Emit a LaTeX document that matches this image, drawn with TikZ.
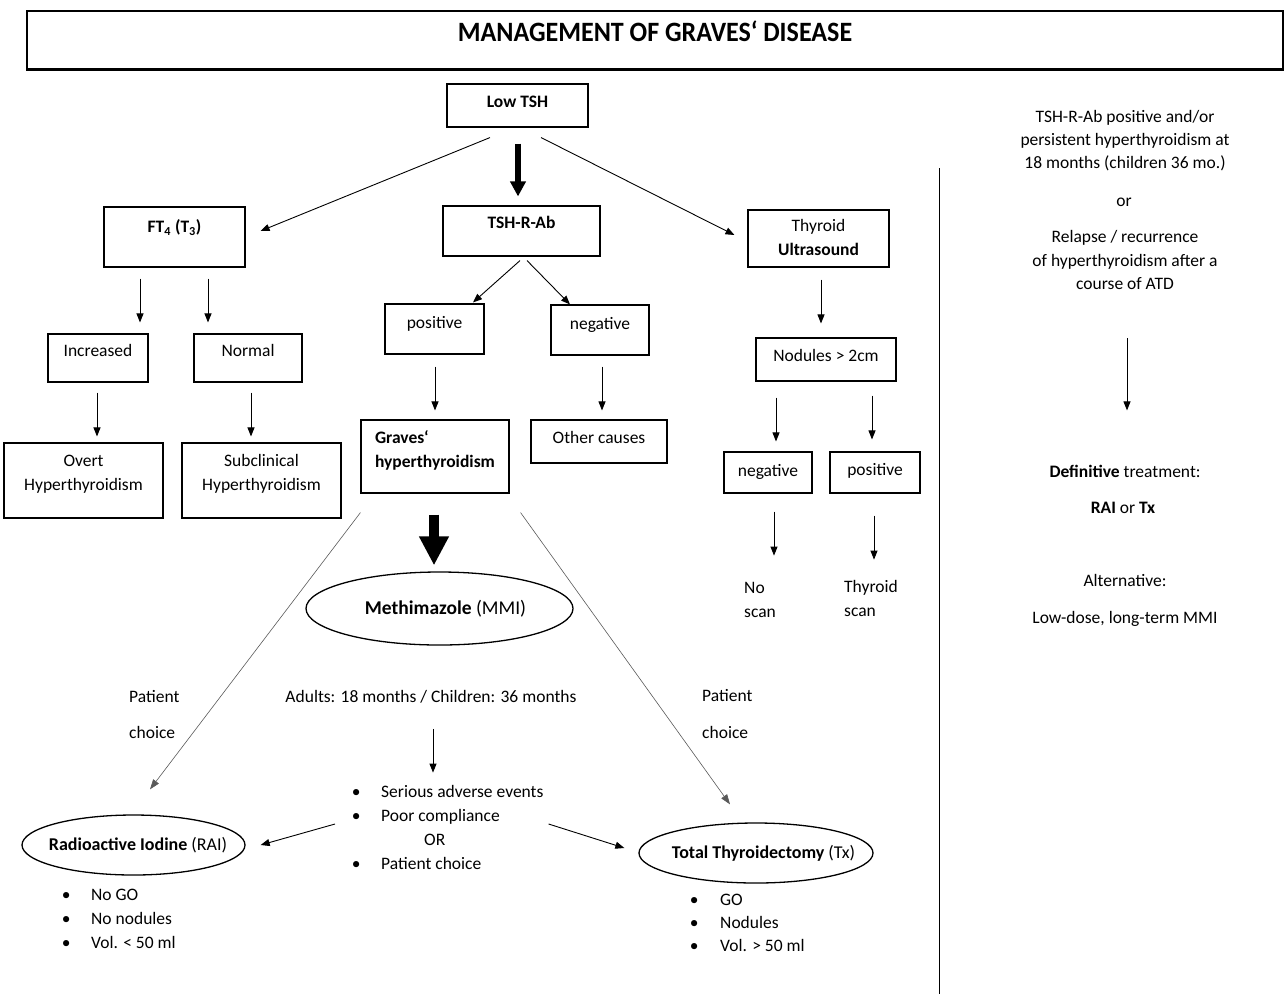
\documentclass[tikz,border=0pt]{standalone}
\usepackage{fontspec}
\setmainfont{Carlito}
\newfontfamily\titlefont{Carlito}[FakeStretch=0.93]
\usetikzlibrary{arrows.meta}
\usetikzlibrary{shapes.geometric}
\tikzset{
  box/.style={draw, line width=1.1pt, inner sep=0pt, anchor=base},
  txt/.style={inner sep=0pt, text height=12pt, text depth=4pt},
  arr/.style={-{Triangle[length=9pt,width=7pt]}, line width=0.9pt},
  faint/.style={-{Triangle[length=10pt,width=7pt]}, line width=0.6pt, draw=black!65},
  oval/.style={draw, ellipse, line width=1.3pt, inner sep=-20pt, font=\fontsize{18}{24}\selectfont},
}
\newcommand{\two}[2]{\begin{tabular}[t]{@{}c@{}}#1\\#2\end{tabular}}

\begin{document}
\begin{tikzpicture}[x=1pt,y=-1pt,font=\fontsize{17.5}{24}\selectfont]
\useasboundingbox (0,0) rectangle (1284,994);

% title
\node[box, minimum width=1256pt, text height=30pt, text depth=28pt] (title) at (655,41) {\titlefont\fontsize{28}{30}\selectfont\bfseries MANAGEMENT OF GRAVES‘ DISEASE};
\draw[line width=2.5pt] (title.south west) -- (title.south east);

% boxes
\node[box, minimum width=141pt, text height=23.6pt, text depth=19.4pt] (lowtsh) at (517.5,107.6) {\textbf{Low TSH}};
\node[box, minimum width=141pt, text height=25.6pt, text depth=34.4pt] (ft4) at (174.5,232.6) {\textbf{FT\textsubscript{4} (T\textsubscript{3})}};
\node[box, minimum width=157pt, text height=22.6pt, text depth=27.4pt] (tshrab) at (521.5,228.6) {\textbf{TSH-R-Ab}};
\node[box, minimum width=141pt, text height=21.6pt, text depth=35.4pt] (us) at (818.5,231.6) {\two{Thyroid}{\textbf{Ultrasound}}};

\node[box, minimum width=100pt, text height=22.6pt, text depth=25.4pt] (inc) at (98,356.6) {Increased};
\node[box, minimum width=108pt, text height=22.6pt, text depth=25.4pt] (nor) at (248,356.6) {Normal};
\node[box, minimum width=99pt, text height=24.6pt, text depth=25.4pt] (pos) at (434.5,328.6) {positive};
\node[box, minimum width=98pt, text height=24.6pt, text depth=25.4pt] (neg) at (600,329.6) {negative};
\node[box, minimum width=140pt, text height=23.6pt, text depth=19.4pt] (nod) at (826,361.6) {Nodules > 2cm};

\node[box, minimum width=159pt, text height=23.6pt, text depth=51.4pt] (overt) at (83.5,466.6) {\two{Overt}{Hyperthyroidism}};
\node[box, minimum width=159pt, text height=23.6pt, text depth=51.4pt] (subc) at (261.5,466.6) {\two{Subclinical}{Hyperthyroidism}};
\node[box, minimum width=148pt, text height=23.6pt, text depth=49.4pt] (graves) at (435,443.6) {\begin{tabular}[t]{@{}l@{}}\textbf{Graves‘}\\\textbf{hyperthyroidism}\end{tabular}};
\node[box, minimum width=136pt, text height=23.6pt, text depth=19.4pt] (other) at (599,443.6) {Other causes};
\node[box, minimum width=88pt, text height=24.6pt, text depth=16.4pt] (uneg) at (768,476.6) {negative};
\node[box, minimum width=90pt, text height=23.6pt, text depth=17.4pt] (upos) at (875,475.6) {positive};

\node[inner sep=0pt, anchor=base west] (noscan) at (744,593.6) {\begin{tabular}[t]{@{}l@{}}No\\scan\end{tabular}};
\node[inner sep=0pt, anchor=base west] (thyscan) at (844,592.6) {\begin{tabular}[t]{@{}l@{}}Thyroid\\scan\end{tabular}};

% treatment
\node[oval, minimum width=267pt, minimum height=73pt, font=\fontsize{19.5}{24}\selectfont] (mmi) at (439.5,608.5) {\hspace*{12pt}\textbf{Methimazole} (MMI)};
\node[inner sep=0pt, anchor=base west] (pcl) at (129,702.6) {\begin{tabular}[t]{@{}l@{}}Patient\\[12pt]choice\end{tabular}};
\node[inner sep=0pt, anchor=base west] (pcr) at (702,701.6) {\begin{tabular}[t]{@{}l@{}}Patient\\[13pt]choice\end{tabular}};
\node[txt, anchor=base] (adults) at (431,702.6) {Adults: 18 months / Children: 36 months};
\node[inner sep=0pt, anchor=base west] (mbul) at (356,797.6) {\begin{tabular}[t]{@{}c@{\hspace{25pt}}l@{}}
  \makebox[0pt]{\textbullet} & Serious adverse events\\
  \makebox[0pt]{\textbullet} & Poor compliance\\
  & \hspace{43pt}OR\\
  \makebox[0pt]{\textbullet} & Patient choice\end{tabular}};

\node[oval, minimum width=223pt, minimum height=60pt] (rai) at (133.5,845) {\hspace*{9pt}\textbf{Radioactive Iodine} (RAI)};
\node[oval, minimum width=234pt, minimum height=60pt] (tt) at (756,853) {\hspace*{15pt}\textbf{Total Thyroidectomy} (Tx)};
\node[inner sep=0pt, anchor=base west] (raibul) at (66,900.6) {\begin{tabular}[t]{@{}c@{\hspace{25pt}}l@{}}
  \makebox[0pt]{\textbullet} & No GO\\
  \makebox[0pt]{\textbullet} & No nodules\\
  \makebox[0pt]{\textbullet} & Vol. < 50 ml\end{tabular}};
\node[inner sep=0pt, anchor=base west] (ttbul) at (694,905.6) {\begin{tabular}[t]{@{}c@{\hspace{26pt}}l@{}}
  \makebox[0pt]{\textbullet} & GO\\[-1pt]
  \makebox[0pt]{\textbullet} & Nodules\\[-1pt]
  \makebox[0pt]{\textbullet} & Vol. > 50 ml\end{tabular}};

% right column
\node[inner sep=0pt, anchor=base] (rtop) at (1125,122.6) {\begin{tabular}[t]{@{}c@{}}TSH-R-Ab positive and/or\\[-1pt]persistent hyperthyroidism at\\[-1pt]18 months (children 36 mo.)\end{tabular}};
\node[txt, anchor=base] (ror) at (1124,206.6) {or};
\node[inner sep=0pt, anchor=base] (rrel) at (1125,242.6) {\begin{tabular}[t]{@{}c@{}}Relapse / recurrence\\of hyperthyroidism after a\\[-1pt]course of ATD\end{tabular}};
\node[txt, anchor=base] (rdef) at (1125,477.6) {\textbf{Definitive} treatment:};
\node[txt, anchor=base] (rrai) at (1123,513.6) {\textbf{RAI} or \textbf{Tx}};
\node[txt, anchor=base] (ralt) at (1125,586.6) {Alternative:};
\node[txt, anchor=base] (rlow) at (1125,623.6) {Low-dose, long-term MMI};
\draw[line width=1pt] (939,168) -- (939,994);

% connectors
\draw[line width=5.5pt, -{Triangle[length=15pt,width=15pt]}, shorten <=16pt, shorten >=9pt] ([xshift=0.5pt]lowtsh.south) -- ([xshift=0.5pt]lowtsh.south |- tshrab.north);
\draw[arr] ([xshift=-27.5pt,yshift=-10pt]lowtsh.south) -- ([xshift=15pt,yshift=6pt]ft4.east);
\draw[arr] ([xshift=23.5pt,yshift=-10pt]lowtsh.south) -- ([xshift=-13pt,yshift=3.5pt]us.west);

\draw[arr, shorten <=11pt, shorten >=11pt] ([xshift=-34.5pt]ft4.south) -- ([xshift=-34.5pt]ft4.south |- inc.north);
\draw[arr, shorten <=11pt, shorten >=11pt] ([xshift=33.5pt]ft4.south) -- ([xshift=33.5pt]ft4.south |- nor.north);
\draw[arr, shorten <=10pt, shorten >=6pt] ([xshift=-1pt]inc.south) -- ([xshift=-1pt]inc.south |- overt.north);
\draw[arr, shorten <=10pt, shorten >=6pt] ([xshift=3pt]nor.south) -- ([xshift=3pt]nor.south |- subc.north);

\draw[arr] ([xshift=-1.5pt,yshift=-4pt]tshrab.south) -- ([xshift=38.5pt,yshift=1pt]pos.north);
\draw[arr] ([xshift=5.5pt,yshift=-4pt]tshrab.south) -- ([xshift=-30pt]neg.north);
\draw[arr, shorten <=12pt, shorten >=9pt] ([xshift=0.5pt]pos.south) -- ([xshift=0.5pt]pos.south |- graves.north);
\draw[arr, shorten <=11pt, shorten >=9pt] ([xshift=2pt]neg.south) -- ([xshift=2pt]neg.south |- other.north);

\draw[arr, shorten <=12pt, shorten >=14pt] ([xshift=2.5pt]us.south) -- ([xshift=2.5pt]us.south |- nod.north);
\draw[arr, shorten <=16pt, shorten >=10pt] ([xshift=-50pt]nod.south) -- ([xshift=-50pt]nod.south |- uneg.north);
\draw[arr, shorten <=14pt, shorten >=12pt] ([xshift=46pt]nod.south) -- ([xshift=46pt]nod.south |- upos.north);
\draw[arr, shorten <=18pt, shorten >=21pt] ([xshift=6pt]uneg.south) -- ([xshift=6pt]uneg.south |- noscan.north);
\draw[arr, shorten <=22pt, shorten >=16pt] ([xshift=-1pt]upos.south) -- ([xshift=-1pt]upos.south |- thyscan.north);

\draw[line width=9.5pt, -{Triangle[length=29pt,width=28pt]}, shorten <=21pt, shorten >=6pt] ([xshift=-1pt]graves.south) -- ([xshift=-1pt]graves.south |- mmi.north);
\draw[faint] ([yshift=-19pt]graves.south west) -- ([xshift=16.5pt,yshift=25pt]rai.north);
\draw[faint] ([xshift=11pt,yshift=-19pt]graves.south east) -- ([xshift=-26pt,yshift=18pt]tt.north);

\draw[arr, shorten <=22pt, shorten >=8pt] ([xshift=2pt]adults.south) -- ([xshift=2pt]adults.south |- mbul.north);
\draw[arr] ([xshift=-21pt,yshift=4.8pt]mbul.west) -- ([xshift=15pt]rai.east);
\draw[arr] ([xshift=5pt,yshift=4.8pt]mbul.east) -- ([xshift=-14pt,yshift=5pt]tt.west);

\draw[arr, shorten <=41pt, shorten >=55pt] ([xshift=2pt]rrel.south) -- ([xshift=2pt]rrel.south |- rdef.north);
\end{tikzpicture}
\end{document}
